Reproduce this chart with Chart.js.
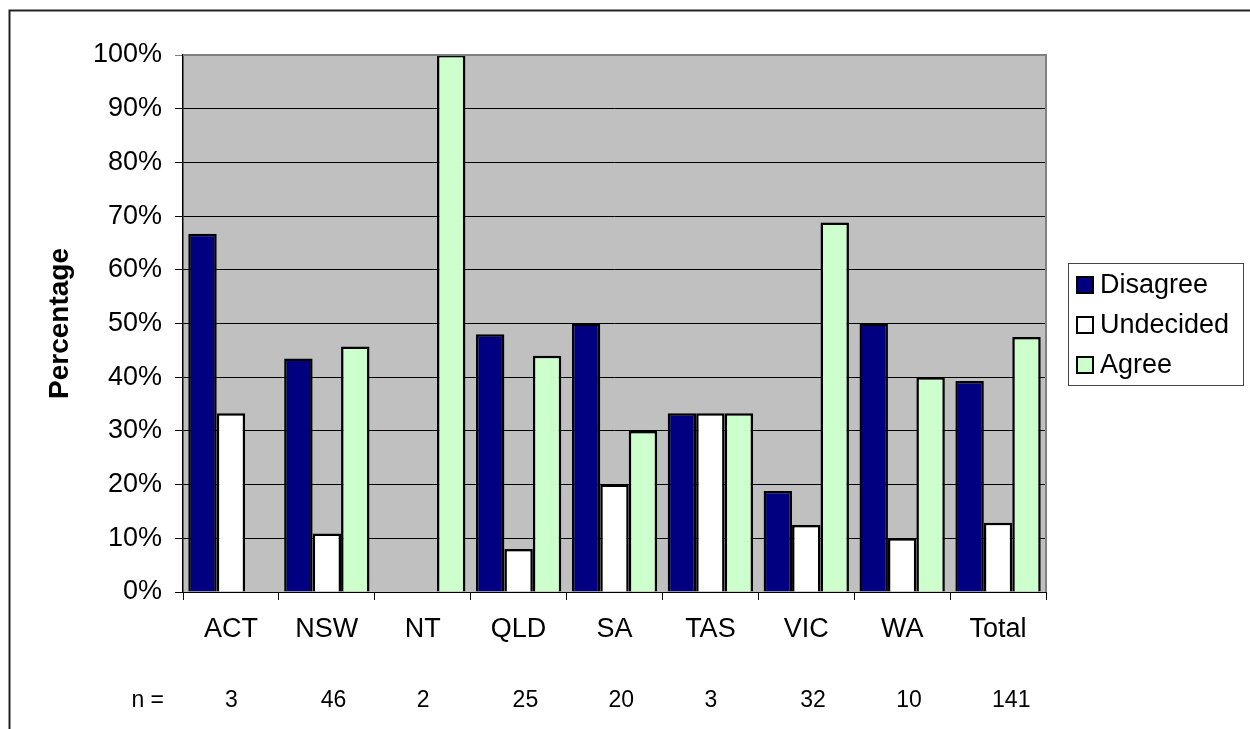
<!DOCTYPE html>
<html lang="en">
  <head>
    <meta charset="utf-8">
    <title>Percentage by state</title>
    <script src="https://cdn.jsdelivr.net/npm/chart.js@4.4.1/dist/chart.umd.min.js"></script>
    <style>
      body { margin: 0; background: #fff; }
      canvas { display: block; }
    </style>
  </head>
  <body>
    <canvas id="bar-chart" width="1250" height="729"></canvas>

    <script>
    // data
    var categories = ["ACT", "NSW", "NT", "QLD", "SA", "TAS", "VIC", "WA", "Total"];
    var disagree = [66.7, 43.5, 0, 48, 50, 33.3, 18.8, 50, 39.3];
    var undecided = [33.3, 10.9, 0, 8, 20, 33.3, 12.5, 10, 12.9];
    var agree = [0, 45.7, 100, 44, 30, 33.3, 68.8, 40, 47.5];
    var sampleSizes = [3, 46, 2, 25, 20, 3, 32, 10, 141];
    var yTickValues = [0, 10, 20, 30, 40, 50, 60, 70, 80, 90, 100];

    var FONT = "'Liberation Sans', Arial, sans-serif";

    // white page, outer frame and grey plot area
    var backdrop = {
      id: 'backdrop',
      beforeDraw: function(chart) {
        var ctx = chart.ctx, a = chart.chartArea;
        ctx.save();
        ctx.fillStyle = '#fff';
        ctx.fillRect(0, 0, chart.width, chart.height);
        ctx.strokeStyle = '#222';
        ctx.lineWidth = 2;
        ctx.beginPath();
        ctx.moveTo(9.5, chart.height);
        ctx.lineTo(9.5, 10.5);
        ctx.lineTo(chart.width, 10.5);
        ctx.stroke();
        ctx.fillStyle = '#c0c0c0';
        ctx.fillRect(a.left, a.top, a.right - a.left, a.bottom - a.top);
        ctx.restore();
      },
      afterDatasetsDraw: function(chart) {
        var ctx = chart.ctx, a = chart.chartArea;
        ctx.save();
        ctx.strokeStyle = '#808080';
        ctx.lineWidth = 2;
        ctx.beginPath();
        ctx.moveTo(a.left, a.top);
        ctx.lineTo(a.right, a.top);
        ctx.lineTo(a.right, a.bottom);
        ctx.stroke();
        ctx.restore();
      }
    };

    // "n =" row and boxed legend on the right
    var extras = {
      id: 'extras',
      afterDraw: function(chart) {
        var ctx = chart.ctx, a = chart.chartArea, x = chart.scales.x;
        ctx.save();
        ctx.fillStyle = '#000';
        ctx.textBaseline = 'middle';
        ctx.font = '23px ' + FONT;
        ctx.textAlign = 'right';
        ctx.fillText('n =', 164, 701);
        ctx.textAlign = 'left';
        for (var i = 0; i < sampleSizes.length; i++) {
          ctx.fillText(String(sampleSizes[i]), x.getPixelForValue(i) - 6, 701);
        }

        var left = a.right + 22, top = 263, w = 175, h = 122;
        ctx.fillStyle = '#fff';
        ctx.fillRect(left, top, w, h);
        ctx.strokeStyle = '#444';
        ctx.lineWidth = 1;
        ctx.strokeRect(left + 0.5, top + 0.5, w, h);
        ctx.font = '27px ' + FONT;
        chart.data.datasets.forEach(function(ds, k) {
          var cy = top + 22 + k * 40;
          ctx.fillStyle = ds.backgroundColor;
          ctx.fillRect(left + 9, cy - 8, 16, 16);
          ctx.strokeStyle = '#000';
          ctx.lineWidth = 2;
          ctx.strokeRect(left + 9, cy - 8, 16, 16);
          ctx.fillStyle = '#000';
          ctx.fillText(ds.label, left + 32, cy + 1);
        });
        ctx.restore();
      }
    };

    new Chart(document.getElementById("bar-chart"), {
      type: 'bar',
      data: {
        labels: categories,
        datasets: [
          { label: "Disagree", data: disagree, backgroundColor: "#000080" },
          { label: "Undecided", data: undecided, backgroundColor: "#ffffff" },
          { label: "Agree", data: agree, backgroundColor: "#ccffcc" }
        ]
      },
      options: {
        responsive: false,
        animation: false,
        layout: { padding: { top: 55, right: 204, left: 0, bottom: 0 } },
        datasets: {
          bar: {
            borderColor: '#000',
            borderWidth: 2.5,
            borderSkipped: 'bottom',
            categoryPercentage: 0.89,
            barPercentage: 1
          }
        },
        plugins: {
          legend: { display: false },
          tooltip: { enabled: false }
        },
        scales: {
          x: {
            grid: { offset: true, drawOnChartArea: false, tickLength: 8, color: '#000' },
            border: { color: '#000', width: 1 },
            ticks: { color: '#000', padding: 13, font: { family: FONT, size: 27 } },
            afterFit: function(s) { s.height = 137; }
          },
          y: {
            min: 0,
            max: 100,
            afterBuildTicks: function(s) {
              s.ticks = yTickValues.map(function(v) { return { value: v }; });
            },
            grid: {
              tickLength: 8,
              color: function(c) { return c.tick && c.tick.value === 100 ? '#808080' : '#000'; }
            },
            border: { color: '#000', width: 1.5 },
            ticks: {
              color: '#000',
              padding: 13,
              font: { family: FONT, size: 27 },
              callback: function(v) { return v + '%'; }
            },
            title: {
              display: true,
              text: 'Percentage',
              color: '#000',
              font: { family: FONT, size: 28, weight: 'bold' },
              padding: { top: 43, bottom: 0 }
            },
            afterFit: function(s) { s.width = 183; }
          }
        }
      },
      plugins: [backdrop, extras]
    });
    </script>
  </body>
</html>
